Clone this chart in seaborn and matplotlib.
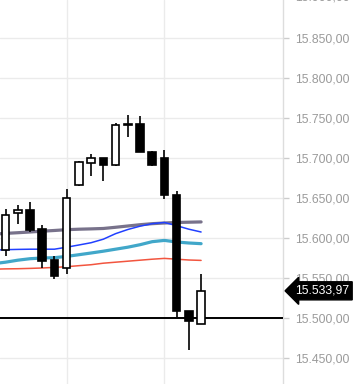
import matplotlib
matplotlib.use("Agg")
import matplotlib.pyplot as plt
import matplotlib.transforms as mtransforms
import numpy as np
import pandas as pd
import seaborn as sns

# candles (index 0 = first visible candle)
opens  = [15584.5, 15631.2, 15635.4, 15611.6, 15572.0, 15562.9, 15666.3, 15693.8, 15700.0,
          15691.6, 15742.9, 15742.9, 15707.9, 15700.0, 15654.1, 15509.1, 15492.0]
highs  = [15636.6, 15641.6, 15645.4, 15616.6, 15577.9, 15661.6, 15695.8, 15704.5, 15700.4,
          15743.8, 15754.1, 15752.0, 15709.1, 15710.4, 15659.1, 15509.1, 15555.4]
lows   = [15577.0, 15617.5, 15607.9, 15562.9, 15549.1, 15555.4, 15664.5, 15677.0, 15671.6,
          15690.4, 15725.8, 15707.0, 15689.5, 15648.8, 15500.8, 15459.5, 15492.0]
closes = [15629.1, 15635.4, 15610.4, 15571.6, 15552.9, 15650.0, 15694.5, 15699.5, 15690.8,
          15741.6, 15740.8, 15707.0, 15690.8, 15653.3, 15508.3, 15495.8, 15533.97]

# moving averages, one value per candle starting one candle before the first visible one
ma_idx = list(range(-1, 17))
ma_gray = [15604.75, 15605.75, 15606.6, 15607.5, 15608.5, 15609.4, 15610.4, 15611.0, 15611.4,
           15611.9, 15613.4, 15615.0, 15616.6, 15617.9, 15618.75, 15619.4, 15619.75, 15620.1]
ma_blue = [15584.75, 15585.4, 15585.75, 15586.0, 15586.0, 15586.0, 15588.5, 15591.25, 15594.1,
           15598.5, 15605.4, 15610.6, 15614.75, 15617.9, 15619.4, 15615.4, 15611.0, 15607.5]
ma_teal = [15567.9, 15569.75, 15572.25, 15574.1, 15575.0, 15575.4, 15577.0, 15579.1, 15581.25,
           15583.5, 15586.0, 15588.5, 15591.6, 15595.4, 15597.0, 15595.0, 15593.75, 15592.9]
ma_red = [15561.0, 15561.4, 15561.6, 15562.0, 15562.5, 15563.25, 15564.1, 15565.4, 15566.6,
          15568.5, 15569.75, 15571.0, 15572.25, 15573.5, 15574.5, 15573.5, 15572.5, 15572.0]

y_ticks = [15450, 15500, 15550, 15600, 15650, 15700, 15750, 15800, 15850]
last_price = 15533.97
ref_line = 15500

def de_fmt(v):
    s = f"{v:,.2f}"
    return s.replace(",", "X").replace(".", ",").replace("X", ".")

sns.set_style("white")
plt.rcParams["font.family"] = ["Liberation Sans", "DejaVu Sans"]

fig = plt.figure(figsize=(3.53, 3.84), dpi=100)
ax = fig.add_axes([0, 0, 283 / 353, 1])

# grid
for t in y_ticks:
    ax.axhline(t, color="#ebebeb", lw=1, zorder=0)
for gx in [5, 13]:
    ax.axvline(gx, color="#ebebeb", lw=1, zorder=0)

ma = pd.DataFrame({"idx": ma_idx, "gray": ma_gray, "blue": ma_blue,
                   "teal": ma_teal, "red": ma_red})
sns.lineplot(data=ma, x="idx", y="gray", ax=ax, color="#69637e", lw=2.3, alpha=0.9, zorder=2)
sns.lineplot(data=ma, x="idx", y="blue", ax=ax, color="#2140ff", lw=1.1, zorder=2)
sns.lineplot(data=ma, x="idx", y="teal", ax=ax, color="#2c9ec4", lw=2.3, alpha=0.9, zorder=2)
sns.lineplot(data=ma, x="idx", y="red", ax=ax, color="#f2553f", lw=1.1, zorder=2)

ax.axhline(ref_line, color="black", lw=1.4, zorder=3)

# candles
xs = np.arange(len(opens))
ax.vlines(xs, lows, highs, color="black", lw=1.2, zorder=4)
for i in xs:
    o, c = opens[i], closes[i]
    up = c >= o
    ax.bar(i, abs(c - o), bottom=min(o, c), width=0.62,
           color="white" if up else "black", edgecolor="black", lw=1.2, zorder=5)

ax.set_xlim(-0.45, 22.7)
ax.set_ylim(15417.5, 15897.5)
ax.set_xticks([])
ax.set_xlabel("")
ax.set_ylabel("")

ax.yaxis.tick_right()
ax.set_yticks(y_ticks)
ax.set_yticklabels([de_fmt(t) for t in y_ticks])
ax.tick_params(axis="y", length=4, width=1, color="#cccccc", labelcolor="#9a9a9a",
               labelsize=8.8, pad=5)
for side in ["top", "left", "bottom"]:
    ax.spines[side].set_visible(False)
ax.spines["right"].set_color("#dddddd")
ax.spines["right"].set_linewidth(1)

# partially visible top label
trans = mtransforms.blended_transform_factory(ax.transAxes, ax.transData)
ax.text(1.0 + 12 / 283, 15900, de_fmt(15900), transform=trans, va="center", ha="left",
        color="#9a9a9a", fontsize=8.8, clip_on=False)

# last price marker
ax.text(1.0 + 12 / 283, last_price, de_fmt(last_price), transform=trans, va="center", ha="left",
        color="white", fontsize=8.8, clip_on=False, zorder=10,
        bbox=dict(boxstyle="larrow,pad=0.25", fc="black", ec="black"))

fig.savefig("out.png", dpi=100)
